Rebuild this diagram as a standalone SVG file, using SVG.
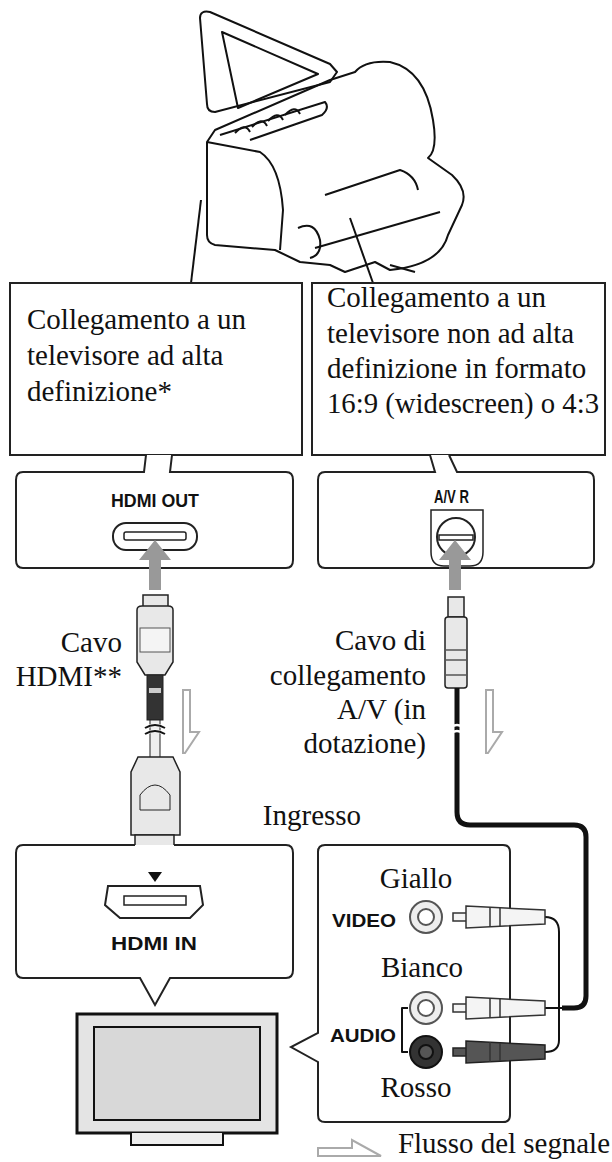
<svg xmlns="http://www.w3.org/2000/svg" width="612" height="1162" viewBox="0 0 612 1162">
<style>
.t{font-family:"Liberation Serif",serif;font-size:29px;fill:#111}
.b{font-family:"Liberation Sans",sans-serif;font-weight:bold;fill:#111;font-size:18px}
.ln{fill:none;stroke:#111;stroke-width:2;stroke-linejoin:round}
.box{fill:#fff;stroke:#222;stroke-width:2}
.plug{fill:#e8e8e8;stroke:#222;stroke-width:1.5}
.flow{fill:#fff;stroke:#aaa;stroke-width:2}
</style>
<rect width="612" height="1162" fill="#fff"/>
<g id="camera" class="ln">
<path d="M200,18 Q200,10 210,12 L330,64 L337,72 L330,82 L215,112 Q207,112 207,104 Z"/>
<path d="M222,32 L318,74 L238,108 Z"/>
<path d="M215,130 L330,80 L355,72 Q365,60 390,62 Q425,70 433,120 Q438,150 428,158 L452,175 Q468,190 462,205 L448,235 Q440,265 390,270 L375,262 L345,272 L330,265 L300,262 L275,250 L215,245 Q207,243 207,235 L207,142 Z"/>
<path d="M207,142 L260,152 Q280,165 283,210 L280,250"/>
<path d="M220,135 L325,102 Q330,108 322,115 L250,140"/>
<path d="M235,133 Q245,122 250,132 M252,127 Q262,116 267,126 M268,121 Q278,110 283,120 M285,115 Q295,104 300,114"/>
<path d="M315,248 L440,212"/>
<path d="M325,195 L400,170 Q415,175 418,190"/>
<path d="M298,228 Q315,220 320,240 Q322,255 310,258"/>
<path d="M390,265 L415,272"/>
</g>
<g id="leaders" class="ln" stroke-width="1.5">
<path d="M201,200 L191,283"/>
<path d="M350,218 L373,283"/>
</g>
<g id="box-hd">
<rect class="box" x="10" y="283" width="292" height="172"/>
<text class="t" x="27" y="329">Collegamento a un</text>
<text class="t" x="27" y="365">televisore ad alta</text>
<text class="t" x="27" y="401">definizione*</text>
</g>
<g id="box-sd">
<rect class="box" x="312" y="283" width="293" height="172"/>
<text class="t" x="327" y="307">Collegamento a un</text>
<text class="t" x="327" y="343">televisore non ad alta</text>
<text class="t" x="327" y="378">definizione in formato</text>
<text class="t" x="327" y="413" textLength="272" lengthAdjust="spacingAndGlyphs">16:9 (widescreen) o 4:3</text>
</g>
<g id="port-hdmi-out">
<path class="box" d="M146,455 L144,472 L23,472 Q16,472 16,480 L16,560 Q16,568 23,568 L286,568 Q293,568 293,560 L293,480 Q293,472 286,472 L170,472 L172,455"/>
<text class="b" x="111" y="507" textLength="88" lengthAdjust="spacingAndGlyphs">HDMI OUT</text>
<rect x="113" y="523" width="84" height="27" rx="13" fill="#fff" stroke="#222" stroke-width="2"/>
<rect x="124" y="532" width="62" height="8" rx="2" fill="#fff" stroke="#222" stroke-width="1.5"/>
</g>
<g id="port-av">
<path class="box" d="M430,455 L435,472 L325,472 Q318,472 318,480 L318,560 Q318,568 325,568 L587,568 Q594,568 594,560 L594,480 Q594,472 587,472 L457,472 L449,455"/>
<text class="b" x="434" y="503" textLength="35" lengthAdjust="spacingAndGlyphs">A/V R</text>
<path d="M431,510 L483,510 L483,552 Q483,566 470,566 L444,566 Q431,566 431,552 Z" fill="#fff" stroke="#222" stroke-width="1.5"/>
<circle cx="456" cy="537" r="19" fill="#fff" stroke="#222" stroke-width="2"/>
<rect x="439" y="535" width="34" height="5" fill="#fff" stroke="#222" stroke-width="1.5"/>
</g>
<g id="arrows" fill="#999">
<path d="M149,590 L149,560 L139,560 L155,540 L171,560 L161,560 L161,590 Z"/>
<path d="M449,590 L449,560 L439,560 L455,540 L471,560 L461,560 L461,590 Z"/>
</g>
<g id="hdmi-cable">
<rect class="plug" x="143" y="595" width="25" height="13"/>
<path class="plug" d="M137,610 Q137,606 142,606 L168,606 Q173,606 173,610 L173,662 L165,675 L145,675 L137,662 Z"/>
<rect x="140" y="628" width="30" height="24" fill="#f4f4f4" stroke="#555"/>
<rect x="147" y="675" width="16" height="45" fill="#333" stroke="#222"/>
<rect x="149" y="688" width="12" height="5" fill="#ccc"/>
<rect x="150" y="720" width="10" height="38" fill="#eee" stroke="#222"/>
<path d="M145,728 Q155,722 165,728 M145,734 Q155,728 165,734" fill="none" stroke="#fff" stroke-width="3"/>
<path d="M145,728 Q155,722 165,728 M145,734 Q155,728 165,734" class="ln" stroke-width="1.5"/>
<path class="plug" d="M138,757 L173,757 L180,772 L180,835 L131,835 L131,772 Z"/>
<path d="M140,795 Q155,775 170,795 L170,810 L140,810 Z" fill="none" stroke="#222"/>
<rect class="plug" x="135" y="835" width="39" height="25"/>
</g>
<g id="av-cable">
<rect class="plug" x="448" y="597" width="16" height="20"/>
<rect class="plug" x="445" y="617" width="22" height="71" rx="3"/>
<path d="M445,650 L467,650 M445,660 L467,660 M445,675 L467,675" stroke="#555" stroke-width="1.5"/>
<path d="M457,688 L457,812 Q457,825 470,825 L574,825 Q586,825 586,837 L586,996 Q586,1008 574,1008 L562,1008" fill="none" stroke="#111" stroke-width="5"/>
<path d="M449,728 Q457,722 465,728 M449,734 Q457,728 465,734" fill="none" stroke="#fff" stroke-width="2.5"/>
</g>
<g id="flow" class="flow">
<path d="M183,690 L190,690 L190,732 L199,732 L185,753 L183,753 Z"/>
<path d="M486,690 L493,690 L493,732 L502,732 L488,753 L486,753 Z"/>
<path d="M318,1156 L318,1148 L352,1148 L352,1140 L381,1156 Z"/>
</g>
<g id="labels">
<text class="t" x="122" y="652" text-anchor="end">Cavo</text>
<text class="t" x="122" y="686" text-anchor="end">HDMI**</text>
<text class="t" x="426" y="650" text-anchor="end">Cavo di</text>
<text class="t" x="426" y="685" text-anchor="end">collegamento</text>
<text class="t" x="426" y="719" text-anchor="end">A/V (in</text>
<text class="t" x="426" y="753" text-anchor="end">dotazione)</text>
<text class="t" x="312" y="825" text-anchor="middle">Ingresso</text>
<text class="t" x="398" y="1153" textLength="212" lengthAdjust="spacingAndGlyphs">Flusso del segnale</text>
</g>
<g id="port-hdmi-in">
<path class="box" d="M135,845 L23,845 Q16,845 16,853 L16,970 Q16,978 23,978 L140,978 L155,1005 L170,978 L286,978 Q293,978 293,970 L293,853 Q293,845 286,845 L174,845"/>
<path d="M148,872 L162,872 L155,882 Z" fill="#111"/>
<path d="M108,886 L200,886 L203,905 L190,918 L120,918 L105,905 Z" fill="#fff" stroke="#222" stroke-width="2"/>
<rect x="124" y="896" width="62" height="9" fill="#fff" stroke="#222" stroke-width="1.5"/>
<text class="b" x="111" y="950" textLength="86" lengthAdjust="spacingAndGlyphs">HDMI IN</text>
</g>
<g id="tv">
<rect x="77" y="1014" width="200" height="119" fill="#e4e4e4" stroke="#111" stroke-width="3"/>
<rect x="94" y="1027" width="166" height="93" fill="#d8d8d8" stroke="#111" stroke-width="2"/>
<path d="M131,1133 L131,1145 L223,1145 L223,1133" fill="#eee" stroke="#111" stroke-width="2"/>
</g>
<g id="port-av-in">
<path class="box" d="M325,845 L503,845 Q510,845 510,852 L510,1115 Q510,1122 503,1122 L325,1122 Q318,1122 318,1115 L318,1062 L291,1047 L318,1033 L318,852 Q318,845 325,845 Z"/>
<text class="t" x="416" y="888" text-anchor="middle">Giallo</text>
<text class="b" x="332" y="927" textLength="64" lengthAdjust="spacingAndGlyphs" font-size="20">VIDEO</text>
<circle cx="426" cy="917" r="16" fill="#eee" stroke="#555" stroke-width="2"/>
<circle cx="426" cy="917" r="8" fill="#fff" stroke="#555" stroke-width="2"/>
<text class="t" x="422" y="977" text-anchor="middle">Bianco</text>
<circle cx="426" cy="1008" r="16" fill="#eee" stroke="#555" stroke-width="2"/>
<circle cx="426" cy="1008" r="8" fill="#fff" stroke="#555" stroke-width="2"/>
<circle cx="426" cy="1052" r="16" fill="#333" stroke="#111" stroke-width="2"/>
<circle cx="426" cy="1052" r="7" fill="#555" stroke="#111" stroke-width="2"/>
<text class="b" x="330" y="1042" textLength="66" lengthAdjust="spacingAndGlyphs" font-size="21">AUDIO</text>
<path d="M408,1008 L402,1008 L402,1052 L408,1052" class="ln" stroke-width="1.5"/>
<text class="t" x="416" y="1097" text-anchor="middle">Rosso</text>
</g>
<g id="rca">
<path d="M545,917 Q559,917 559,932 L559,1040 Q559,1052 545,1052 M545,1008 L564,1008" fill="none" stroke="#111" stroke-width="2"/>
<path d="M453,913 L466,913 L466,921 L453,921 Z M466,906 L545,910 L545,924 L466,928 Z" fill="#f4f4f4" stroke="#333" stroke-width="1.5"/>
<path d="M453,1004 L466,1004 L466,1012 L453,1012 Z M466,997 L545,1001 L545,1015 L466,1019 Z" fill="#f4f4f4" stroke="#333" stroke-width="1.5"/>
<path d="M453,1048 L466,1048 L466,1056 L453,1056 Z M466,1041 L545,1045 L545,1059 L466,1063 Z" fill="#555" stroke="#222" stroke-width="1.5"/>
<path d="M490,907 L490,927 M500,908 L500,926 M490,998 L490,1018 M500,999 L500,1017 M490,1042 L490,1062 M500,1043 L500,1061" stroke="#333" stroke-width="1.5"/>
</g>
</svg>
